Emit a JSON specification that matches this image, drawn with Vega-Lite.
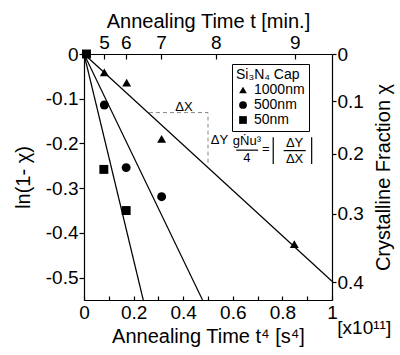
{
  "$schema": "https://vega.github.io/schema/vega-lite/v6.json",
  "width": 248,
  "height": 246,
  "autosize": {"type": "none"},
  "padding": {"left": 84, "top": 54, "right": 68, "bottom": 55},
  "config": {
    "font": "Liberation Sans",
    "view": {"stroke": null},
    "axis": {
      "domainColor": "black", "tickColor": "black", "labelColor": "black", "titleColor": "black",
      "grid": false, "labelFontSize": 19, "titleFontSize": 20, "titleFontWeight": "normal",
      "domainWidth": 1.2, "tickWidth": 1.2, "labelFlush": false
    }
  },
  "datasets": {
    "pts": [
      {"t4": 0.010, "v": 0.0, "cap": "50nm"},
      {"t4": 0.082, "v": -0.041, "cap": "1000nm"},
      {"t4": 0.172, "v": -0.064, "cap": "1000nm"},
      {"t4": 0.313, "v": -0.190, "cap": "1000nm"},
      {"t4": 0.848, "v": -0.425, "cap": "1000nm"},
      {"t4": 0.082, "v": -0.114, "cap": "500nm"},
      {"t4": 0.170, "v": -0.254, "cap": "500nm"},
      {"t4": 0.313, "v": -0.319, "cap": "500nm"},
      {"t4": 0.080, "v": -0.258, "cap": "50nm"},
      {"t4": 0.170, "v": -0.350, "cap": "50nm"}
    ],
    "fits": [
      {"t4": 0, "v": 0, "cap": "1000nm"},
      {"t4": 1, "v": -0.508, "cap": "1000nm"},
      {"t4": 0, "v": 0, "cap": "500nm"},
      {"t4": 0.478, "v": -0.55, "cap": "500nm"},
      {"t4": 0, "v": 0, "cap": "50nm"},
      {"t4": 0.239, "v": -0.55, "cap": "50nm"}
    ],
    "dash": [
      {"t4": 0.262, "v": -0.131, "o": 0},
      {"t4": 0.5, "v": -0.131, "o": 1},
      {"t4": 0.5, "v": -0.25, "o": 2}
    ],
    "notes": [
      {"t4": 0.403, "v": -0.118, "s": "ΔX"},
      {"t4": 0.546, "v": -0.192, "s": "ΔY"},
      {"t4": 0.657, "v": -0.195, "s": "gṄu³"},
      {"t4": 0.657, "v": -0.232, "s": "4"},
      {"t4": 0.733, "v": -0.213, "s": "="},
      {"t4": 0.849, "v": -0.199, "s": "ΔY"},
      {"t4": 0.849, "v": -0.234, "s": "ΔX"}
    ],
    "bars": [
      {"a": 0.614, "b": 0.702, "c": -0.215, "d": -0.215},
      {"a": 0.805, "b": 0.894, "c": -0.216, "d": -0.216},
      {"a": 0.763, "b": 0.763, "c": -0.186, "d": -0.246},
      {"a": 0.918, "b": 0.918, "c": -0.186, "d": -0.246}
    ],
    "unit": [
      {"t4": 1.13, "v": -0.613, "s": "[x10¹¹]"}
    ]
  },
  "resolve": {"axis": {"x": "independent", "y": "independent"}},
  "layer": [
    {
      "data": {"name": "fits"},
      "mark": {"type": "line", "color": "black", "strokeWidth": 1.2},
      "encoding": {
        "x": {"field": "t4", "type": "quantitative", "scale": {"domain": [0, 1], "nice": false, "zero": false},
          "axis": {"orient": "bottom", "values": [0, 0.1, 0.2, 0.3, 0.4, 0.5, 0.6, 0.7, 0.8, 0.9, 1],
            "labelExpr": "round(datum.value*10) % 2 == 0 ? format(datum.value, '~g') : ''",
            "tickSize": -4, "labelPadding": 7, "title": "Annealing Time t⁴ [s⁴]", "titlePadding": 4}},
        "y": {"field": "v", "type": "quantitative", "scale": {"domain": [-0.55, 0], "nice": false, "zero": false},
          "axis": {"orient": "left", "values": [0, -0.1, -0.2, -0.3, -0.4, -0.5],
            "labelExpr": "datum.value == 0 ? '0' : '-' + format(-datum.value, '.1f')",
            "tickSize": 5, "labelPadding": 1, "title": "ln(1- χ)", "titlePadding": 12}},
        "detail": {"field": "cap"}
      }
    },
    {
      "data": {"name": "pts"},
      "mark": {"type": "point", "filled": true, "color": "black", "opacity": 1, "size": 80},
      "encoding": {
        "x": {"field": "t4", "type": "quantitative", "scale": {"domain": [0, 1], "nice": false, "zero": false},
          "axis": {"orient": "top", "values": [0.081, 0.168, 0.311, 0.531, 0.850],
            "labelExpr": "format(pow(datum.value*1e11, 0.25)/60, '.0f')",
            "tickSize": -5, "labelPadding": 7, "title": "Annealing Time t [min.]", "titlePadding": 2}},
        "y": {"field": "v", "type": "quantitative", "scale": {"domain": [-0.55, 0], "nice": false, "zero": false},
          "axis": {"orient": "right", "values": [0, -0.10536, -0.22314, -0.35667, -0.51083],
            "labelExpr": "format(1 - exp(datum.value), '.1~f')",
            "tickSize": 4, "labelPadding": 1, "title": "Crystalline Fraction χ", "titleAngle": 270,
            "titleBaseline": "bottom", "titlePadding": 30}},
        "shape": {"field": "cap", "type": "nominal",
          "scale": {"domain": ["1000nm", "500nm", "50nm"], "range": ["triangle-up", "circle", "square"]},
          "legend": {"orient": "none", "legendX": 148, "legendY": 10, "strokeColor": "black", "fillColor": "white",
            "padding": 4, "title": "Si₃N₄ Cap", "titleFontSize": 14, "titleFontWeight": "normal", "titleColor": "black",
            "labelFontSize": 14, "labelColor": "black", "symbolSize": 60, "rowPadding": 1, "titlePadding": 1,
            "symbolFillColor": "black", "symbolStrokeColor": "black"}}
      }
    },
    {
      "data": {"name": "dash"},
      "mark": {"type": "line", "color": "#888888", "strokeWidth": 1, "strokeDash": [4, 3]},
      "encoding": {
        "x": {"field": "t4", "type": "quantitative", "axis": null},
        "y": {"field": "v", "type": "quantitative", "axis": null},
        "order": {"field": "o"}
      }
    },
    {
      "data": {"name": "notes"},
      "mark": {"type": "text", "fontSize": 13, "color": "black", "baseline": "middle", "align": "center"},
      "encoding": {
        "x": {"field": "t4", "type": "quantitative", "axis": null},
        "y": {"field": "v", "type": "quantitative", "axis": null},
        "text": {"field": "s"}
      }
    },
    {
      "data": {"name": "bars"},
      "mark": {"type": "rule", "color": "black", "strokeWidth": 1.2},
      "encoding": {
        "x": {"field": "a", "type": "quantitative", "axis": null},
        "x2": {"field": "b"},
        "y": {"field": "c", "type": "quantitative", "axis": null},
        "y2": {"field": "d"}
      }
    },
    {
      "data": {"name": "unit"},
      "mark": {"type": "text", "fontSize": 19, "color": "black", "baseline": "middle", "align": "center"},
      "encoding": {
        "x": {"field": "t4", "type": "quantitative", "axis": null},
        "y": {"field": "v", "type": "quantitative", "axis": null},
        "text": {"field": "s"}
      }
    }
  ]
}
